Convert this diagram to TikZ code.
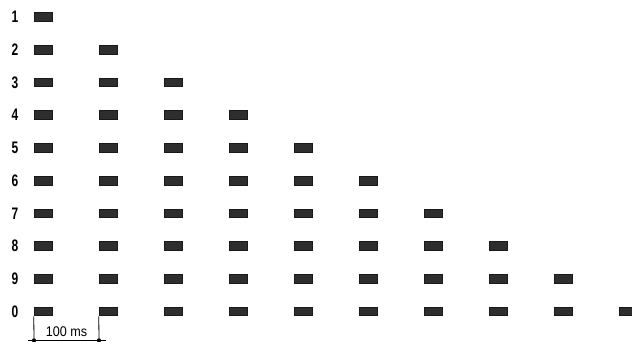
\documentclass[tikz,border=0pt]{standalone}
\usepackage{fontspec}
\setsansfont{Liberation Sans}
\usetikzlibrary{calc,positioning}

\begin{document}
\begin{tikzpicture}[x=0.75pt,y=-0.75pt,
  pulse/.style={draw=black!90,fill=black!82,line width=0.6pt,minimum width=14pt,minimum height=6.6pt,inner sep=0pt},
  rowlab/.style={font=\sffamily\bfseries\fontsize{12.5}{12.5}\selectfont,xscale=0.72},
  barlab/.style={font=\sffamily\fontsize{10.5}{10.5}\selectfont,xscale=0.9}]
  \useasboundingbox (0,0) rectangle (632,342);
  % Rows of pulses
  \foreach \r/\t in {1/1,2/2,3/3,4/4,5/5,6/6,7/7,8/8,9/9,10/0}{
    \node[rowlab] (lab\r) at (15,{17+32.72*(\r-1)}) {\t};
    \foreach \c in {1,...,\r}
      \node[pulse] (p\r-\c) at ({43.5+65*(\c-1)},{17+32.72*(\r-1)}) {};
  }
  % Scale bar
  \coordinate (s1) at (34,340.5);
  \coordinate (s2) at (99,340.5);
  \coordinate (s0) at (28,340.5);
  \coordinate (s3) at (106,340.5);
  \draw[line width=0.6pt] (p10-1.south west)--(s1);
  \draw[line width=0.6pt] (p10-2.south west)--(s2);
  \draw[line width=0.6pt] (s0)--(s3);
  \fill (s1) circle (1.6pt) (s2) circle (1.6pt);
  \node[barlab] (bar) at (66.5,332) {100 ms};
\end{tikzpicture}
\end{document}
